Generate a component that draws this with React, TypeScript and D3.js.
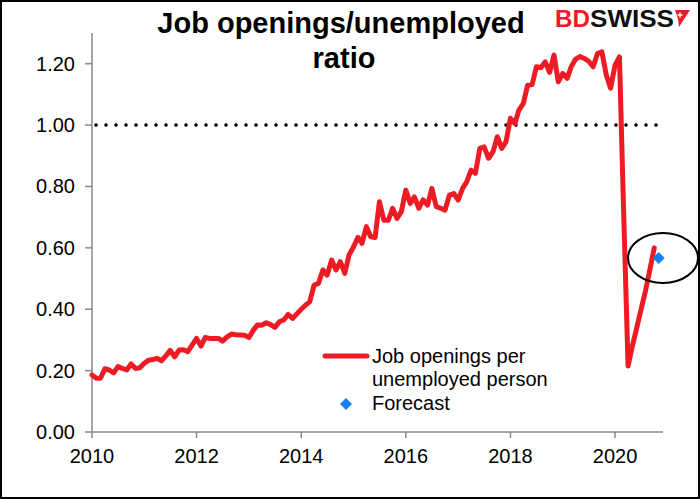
import React from "react";
import * as d3 from "d3";

// Monthly job openings per unemployed person, Jan 2010 – Oct 2020
const ratio2010 = [0.186, 0.175, 0.175, 0.206, 0.202, 0.193, 0.213, 0.207, 0.202, 0.222, 0.207, 0.209];
const ratio2011 = [0.224, 0.234, 0.236, 0.24, 0.232, 0.248, 0.266, 0.245, 0.267, 0.268, 0.262, 0.283];
const ratio2012 = [0.305, 0.28, 0.308, 0.305, 0.305, 0.305, 0.296, 0.31, 0.319, 0.317, 0.316, 0.315];
const ratio2013 = [0.308, 0.332, 0.349, 0.348, 0.356, 0.35, 0.341, 0.359, 0.365, 0.383, 0.37, 0.385];
const ratio2014 = [0.4, 0.414, 0.424, 0.479, 0.484, 0.528, 0.511, 0.56, 0.528, 0.555, 0.517, 0.577];
const ratio2015 = [0.603, 0.634, 0.615, 0.669, 0.636, 0.634, 0.75, 0.69, 0.69, 0.729, 0.696, 0.718];
const ratio2016 = [0.788, 0.745, 0.766, 0.729, 0.756, 0.739, 0.794, 0.734, 0.729, 0.723, 0.772, 0.777];
const ratio2017 = [0.756, 0.794, 0.815, 0.853, 0.843, 0.924, 0.929, 0.892, 0.913, 0.962, 0.924, 0.946];
const ratio2018 = [1.022, 1.005, 1.049, 1.071, 1.13, 1.132, 1.19, 1.187, 1.206, 1.172, 1.228, 1.141];
const ratio2019 = [1.168, 1.152, 1.19, 1.215, 1.223, 1.217, 1.208, 1.19, 1.233, 1.239, 1.163, 1.12];
const ratio2020 = [1.195, 1.222, 0.72, 0.215, 0.28, 0.34, 0.4, 0.46, 0.53, 0.6];

const ratioByYear = [ratio2010, ratio2011, ratio2012, ratio2013, ratio2014, ratio2015, ratio2016, ratio2017, ratio2018, ratio2019, ratio2020];
const firstYear = 2010;

const forecastDate = { year: 2020, month: 10 }; // Nov 2020 (0-based month)
const forecastValue = 0.567;
const referenceValue = 1.0;

const yTicks = [0, 0.2, 0.4, 0.6, 0.8, 1.0, 1.2];
const xTickYears = [2010, 2012, 2014, 2016, 2018, 2020];

const titleLines = ["Job openings/unemployed", "ratio"];
const legendLineLabel = ["Job openings per", "unemployed person"];
const legendMarkerLabel = "Forecast";

const FONT = "'Liberation Sans', Arial, Helvetica, sans-serif";
const RED = "#ED1C24";
const BLUE = "#1580F0";
const AXIS = "#898989";

export default function App() {
  const series = ratioByYear.flatMap((vals, yi) =>
    vals.map((v, m) => ({ date: new Date(firstYear + yi, m, 1), value: v }))
  );

  const x = d3
    .scaleTime()
    .domain([new Date(2010, 0, 1), new Date(2020, 11, 1)])
    .range([92, 663]);
  const y = d3.scaleLinear().domain([0, 1.3]).range([432, 33]);

  const line = d3
    .line<{ date: Date; value: number }>()
    .x((d) => x(d.date))
    .y((d) => y(d.value))
    .curve(d3.curveLinear);

  const fDate = new Date(forecastDate.year, forecastDate.month, 1);
  const fx = x(fDate);
  const fy = y(forecastValue);
  const diamond = (cx: number, cy: number, r: number) =>
    `M${cx},${cy - r}L${cx + r},${cy}L${cx},${cy + r}L${cx - r},${cy}Z`;

  const [x0, x1] = x.range();
  const [yb, yt] = y.range();

  return (
    <svg
      width={700}
      height={499}
      style={{ position: "absolute", left: 0, top: 0, background: "#fff" }}
      fontFamily={FONT}
    >
      <rect x={0} y={0} width={700} height={499} fill="#fff" />
      <rect x={1} y={1} width={698} height={497} fill="none" stroke="#000" strokeWidth={2} />

      {/* Title */}
      <text x={341} y={33} textAnchor="middle" fontSize={29} fontWeight="bold" fill="#000">
        {titleLines[0]}
      </text>
      <text x={344} y={68} textAnchor="middle" fontSize={29} fontWeight="bold" fill="#000">
        {titleLines[1]}
      </text>

      {/* Logo */}
      <g>
        <text x={555} y={27} fontSize={23} fontWeight="bold" fill={RED} textLength={35} lengthAdjust="spacingAndGlyphs">
          BD
        </text>
        <text x={590} y={27} fontSize={23} fontWeight="bold" fill="#111" textLength={84} lengthAdjust="spacingAndGlyphs">
          SWISS
        </text>
        <path d="M675,10 L690,10 L679,27 L678,19 Z" fill={RED} />
        <path d="M680,12.5 v5 M677.5,15 h5" stroke="#fff" strokeWidth={1.4} />
      </g>

      {/* Axes */}
      <line x1={x0} x2={x0} y1={yb} y2={yt} stroke={AXIS} strokeWidth={1.5} />
      <line x1={x0} x2={x1} y1={yb} y2={yb} stroke={AXIS} strokeWidth={1.5} />
      {yTicks.map((t) => (
        <g key={"y" + t}>
          <line x1={x0 - 7} x2={x0} y1={y(t)} y2={y(t)} stroke={AXIS} strokeWidth={1.5} />
          <text x={75} y={y(t) + 7} textAnchor="end" fontSize={20} fill="#000">
            {d3.format(".2f")(t)}
          </text>
        </g>
      ))}
      {xTickYears.map((yr) => {
        const px = x(new Date(yr, 0, 1));
        return (
          <g key={"x" + yr}>
            <line x1={px} x2={px} y1={yb} y2={yb + 6} stroke={AXIS} strokeWidth={1.5} />
            <text x={px} y={463} textAnchor="middle" fontSize={20} fill="#000">
              {yr}
            </text>
          </g>
        );
      })}

      {/* Reference dotted line at 1.0 */}
      <line
        x1={x0 + 4}
        x2={fx}
        y1={y(referenceValue)}
        y2={y(referenceValue)}
        stroke="#000"
        strokeWidth={3.6}
        strokeDasharray="0 10"
        strokeLinecap="round"
      />

      {/* Series */}
      <path d={line(series) || ""} fill="none" stroke={RED} strokeWidth={5} strokeLinejoin="round" strokeLinecap="round" />

      {/* Forecast */}
      <path d={diamond(fx, fy, 6)} fill={BLUE} />

      {/* Ellipse highlight */}
      <ellipse cx={663} cy={258} rx={35} ry={25} fill="none" stroke="#000" strokeWidth={2} />

      {/* Legend */}
      <line x1={325} x2={367} y1={356} y2={356} stroke={RED} strokeWidth={5} strokeLinecap="round" />
      <text x={372} y={363} fontSize={20} fill="#000">
        {legendLineLabel[0]}
      </text>
      <text x={372} y={386} fontSize={20} fill="#000">
        {legendLineLabel[1]}
      </text>
      <path d={diamond(346, 404, 6)} fill={BLUE} />
      <text x={372} y={410} fontSize={20} fill="#000">
        {legendMarkerLabel}
      </text>
    </svg>
  );
}
